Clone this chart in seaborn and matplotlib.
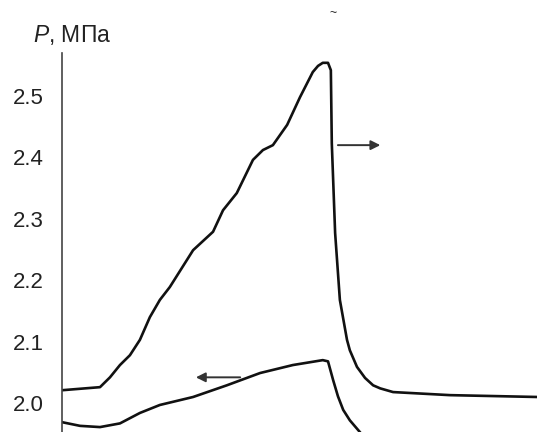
import numpy as np
import pandas as pd
import matplotlib
matplotlib.use('Agg')
import matplotlib.pyplot as plt
import seaborn as sns

# pressure curves (x in arbitrary time units)
upper_x = [0, 8.0, 10.1, 12.2, 14.3, 16.4, 18.5, 20.6, 22.7, 27.6, 31.8, 33.9, 36.8,
           40.2, 42.3, 44.4, 47.4, 50.1, 52.8, 53.9, 54.9, 56.0, 56.6, 56.8, 57.5, 58.5,
           60.0, 60.6, 62.1, 63.8, 65.5, 67.0, 69.7, 81.7, 100]
upper_p = [2.021, 2.026, 2.042, 2.062, 2.078, 2.103, 2.140, 2.168, 2.189, 2.249, 2.279,
           2.314, 2.342, 2.396, 2.412, 2.420, 2.453, 2.498, 2.539, 2.549, 2.554, 2.554,
           2.542, 2.423, 2.277, 2.168, 2.103, 2.086, 2.059, 2.041, 2.029, 2.024, 2.018,
           2.013, 2.010]

lower_x = [0, 3.8, 8.0, 12.2, 16.4, 20.6, 27.6, 34.7, 41.7, 48.6, 54.9, 56.0, 57.1,
           58.1, 59.2, 60.6, 62.7, 64.8]
lower_p = [1.969, 1.963, 1.961, 1.967, 1.984, 1.997, 2.010, 2.029, 2.049, 2.062, 2.070,
           2.068, 2.037, 2.011, 1.989, 1.972, 1.953, 1.932]

yticks = [2.0, 2.1, 2.2, 2.3, 2.4, 2.5]

sns.set_style('white')
plt.rcParams['font.family'] = ['Liberation Sans', 'DejaVu Sans']
plt.rcParams['mathtext.fontset'] = 'custom'
plt.rcParams['mathtext.it'] = 'Liberation Sans:italic'

df = pd.concat([
    pd.DataFrame({'t': upper_x, 'P': upper_p, 'curve': 'upper'}),
    pd.DataFrame({'t': lower_x, 'P': lower_p, 'curve': 'lower'}),
])

fig = plt.figure(figsize=(5.37, 4.32), dpi=100)
ax = fig.add_axes([62 / 537, 0, 1 - 62 / 537, 1 - 53 / 432])

sns.lineplot(data=df, x='t', y='P', units='curve', estimator=None, sort=False,
             color='#111111', linewidth=1.9, ax=ax)
for line in ax.get_lines():
    line.set_solid_joinstyle('round')
    line.set_solid_capstyle('round')

ax.set_xlim(0, 100)
ax.set_ylim(1.953, 2.570)
ax.set_yticks(yticks)
ax.set_yticklabels([f'{v:.1f}' for v in yticks], fontsize=16, color='#222222')
ax.tick_params(axis='y', direction='in', length=6, width=1, color='#333333', pad=13)
ax.set_xticks([])
ax.set_xlabel('')
ax.set_ylabel('')
for side in ['top', 'right', 'bottom']:
    ax.spines[side].set_visible(False)
ax.spines['left'].set_color('#444444')
ax.spines['left'].set_linewidth(1.2)

# direction arrows
ax.annotate('', xy=(67.6, 2.420), xytext=(57.5, 2.420),
            arrowprops=dict(arrowstyle='-|>', color='#333333', lw=1.4, mutation_scale=14))
ax.annotate('', xy=(27.6, 2.042), xytext=(38.1, 2.042),
            arrowprops=dict(arrowstyle='-|>', color='#333333', lw=1.4, mutation_scale=14))

fig.text(33 / 537, 1 - 42 / 432, '$P$, МПа', fontsize=16.5, color='#222222',
         ha='left', va='baseline')
fig.text(333 / 537, 1 - 16 / 432, '~', fontsize=9, color='#222222', ha='center')

fig.savefig('out.png', dpi=100)
